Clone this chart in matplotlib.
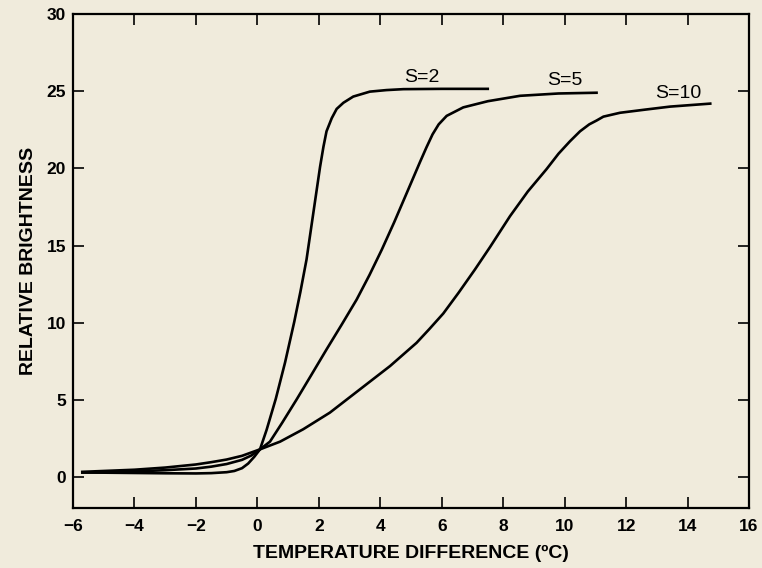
import numpy as np
import matplotlib.pyplot as plt

# curve points (temperature difference, relative brightness)
s2_x = [-5.74, -5, -4, -3, -2, -1.5, -1.0, -0.75, -0.5, -0.3, -0.1, 0.085, 0.3, 0.6,
        0.9, 1.2, 1.4, 1.6, 1.82, 2.04, 2.15, 2.25, 2.42, 2.58, 2.8, 3.12, 3.66, 4.2,
        4.75, 6.0, 7.54]
s2_y = [0.30, 0.29, 0.27, 0.25, 0.24, 0.26, 0.32, 0.40, 0.58, 0.88, 1.32, 1.8, 3.06, 5.08,
        7.42, 10.06, 12.0, 14.1, 17.1, 20.1, 21.4, 22.4, 23.25, 23.85, 24.25, 24.65, 24.97, 25.07,
        25.13, 25.15, 25.15]

s5_x = [-5.74, -5, -4, -3, -2, -1.5, -1, -0.5, -0.2, 0.085, 0.41, 0.8, 1.28, 1.75,
        2.25, 2.75, 3.23, 3.65, 4.05, 4.45, 4.86, 5.29, 5.5, 5.7, 5.9, 6.16, 6.7, 7.5,
        8.55, 9.8, 11.08]
s5_y = [0.30, 0.32, 0.37, 0.45, 0.56, 0.68, 0.85, 1.12, 1.4, 1.8, 2.3, 3.5, 5.04, 6.6,
        8.27, 9.9, 11.5, 13.1, 14.74, 16.5, 18.4, 20.4, 21.35, 22.2, 22.85, 23.4, 23.95, 24.35,
        24.7, 24.85, 24.9]

s10_x = [-5.74, -5, -4, -3, -2, -1.5, -1, -0.5, 0.085, 0.74, 1.49, 2.36, 3.34, 4.32,
         5.18, 5.6, 6.05, 6.55, 7.08, 7.57, 8.22, 8.8, 9.41, 9.8, 10.17, 10.5, 10.8,
         11.04, 11.26, 11.8, 12.6, 13.43, 14.78]
s10_y = [0.34, 0.40, 0.48, 0.62, 0.82, 0.97, 1.14, 1.38, 1.8, 2.3, 3.1, 4.18, 5.69, 7.2,
         8.7, 9.6, 10.6, 11.95, 13.45, 14.9, 16.9, 18.5, 19.95, 20.95, 21.75, 22.4, 22.85,
         23.1, 23.35, 23.6, 23.8, 24.0, 24.2]

labels = ['S=2', 'S=5', 'S=10']
label_pos = [(5.35, 25.9), (10.0, 25.66), (13.69, 24.87)]

xticks = np.arange(-6, 17, 2)
yticks = np.arange(0, 31, 5)

bg = '#f0ebdc'
plt.rcParams['font.family'] = ['Liberation Sans', 'DejaVu Sans']

fig = plt.figure(figsize=(7.62, 5.68), dpi=100, facecolor=bg)
ax = fig.add_axes([0.0958, 0.1056, 0.8872, 0.8698])
ax.set_facecolor(bg)

for xs, ys in [(s2_x, s2_y), (s5_x, s5_y), (s10_x, s10_y)]:
    ax.plot(xs, ys, '-', color='black', lw=1.9, solid_capstyle='butt',
            solid_joinstyle='round')

for lab, (tx, ty) in zip(labels, label_pos):
    ax.text(tx, ty, lab, ha='center', va='center', fontsize=14)

ax.set_xlim(-6, 16)
ax.set_ylim(-2, 30)
ax.set_xticks(xticks)
ax.set_yticks(yticks)
ax.tick_params(direction='in', length=8, width=1.2, top=True, right=True,
               labelsize=12.5)
ax.tick_params(axis='x', pad=8)
ax.tick_params(axis='y', pad=5)
ax.set_xticklabels(['\u2212' + str(-t) if t < 0 else str(t) for t in xticks])
for lab in ax.get_xticklabels() + ax.get_yticklabels():
    lab.set_fontweight('bold')
for sp in ax.spines.values():
    sp.set_linewidth(1.6)

ax.set_xlabel('TEMPERATURE DIFFERENCE (\u00baC)', fontsize=14, fontweight='bold', labelpad=8)
ax.set_ylabel('RELATIVE BRIGHTNESS', fontsize=14, fontweight='bold', labelpad=7)

plt.savefig('out.png', dpi=100, facecolor=bg)
